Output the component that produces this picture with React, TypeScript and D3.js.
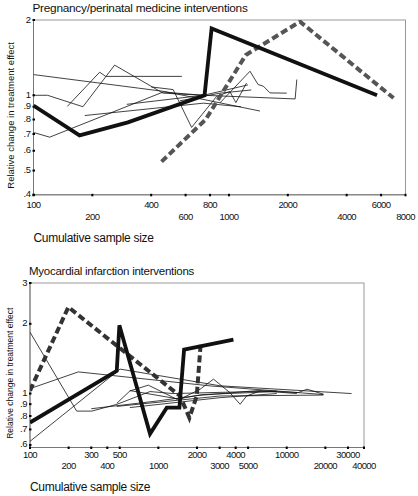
import React from "react";
import * as d3 from "d3";

type Pt = [number, number];

// ---------- Panel 1: Pregnancy/perinatal medicine ----------
const pregTitle = "Pregnancy/perinatal medicine interventions";
const pregXTicksRow1 = [100, 400, 800, 2000, 6000];
const pregXTicksRow2 = [200, 600, 1000, 4000, 8000];
const pregYTicks = [0.4, 0.5, 0.6, 0.7, 0.8, 0.9, 1, 2];
const pregThin: Pt[][] = [
  [[100, 1.21], [470, 1.035], [1440, 0.865]],
  [[100, 1.0], [118, 1.0], [179, 0.9], [260, 1.32], [460, 1.02], [740, 1.0]],
  [[149, 0.903], [218, 1.237], [234, 1.19], [574, 1.19]],
  [[100, 0.71], [121, 0.68], [460, 1.03], [740, 1.0], [1250, 1.1]],
  [[183, 0.83], [740, 0.93], [1150, 0.9]],
  [[400, 1.08], [518, 1.054], [644, 0.744], [865, 0.99], [1010, 1.035], [1085, 0.935], [1230, 1.12]],
  [[899, 0.932], [1281, 1.248], [1409, 1.104], [1500, 1.087], [1622, 1.022], [1976, 1.02]],
  [[300, 0.92], [740, 1.0], [2180, 0.967], [2224, 1.156]],
  [[560, 0.95], [900, 1.02], [1300, 1.05]],
];
const pregSolid: Pt[] = [[100, 0.91], [172, 0.691], [304, 0.779], [750, 1.0], [815, 1.85], [5720, 1.0]];
const pregDashed: Pt[] = [[452, 0.543], [760, 0.8], [1220, 1.45], [2310, 1.97], [6950, 0.975]];

// ---------- Panel 2: Myocardial infarction ----------
const miTitle = "Myocardial infarction interventions";
const miXTicksRow1 = [100, 300, 500, 2000, 4000, 10000, 30000];
const miXTicksRow2 = [200, 400, 1000, 3000, 5000, 20000, 40000];
const miYTicks = [0.6, 0.7, 0.8, 0.9, 1, 2, 3];
const miThin: Pt[][] = [
  [[100, 1.84], [231, 0.84], [303, 0.84], [474, 0.898], [861, 1.02], [1300, 1.0], [8370, 1.026]],
  [[100, 1.05], [238, 1.24], [2530, 1.079], [19300, 0.99]],
  [[100, 0.622], [503, 1.275], [3027, 1.08], [32000, 1.0]],
  [[600, 1.03], [1470, 0.945], [2113, 1.044], [2690, 1.154], [3600, 1.01], [4333, 0.899], [4870, 0.976], [6200, 1.026], [12300, 1.01], [14400, 1.044], [19400, 0.993]],
  [[474, 0.907], [600, 1.026], [835, 1.087], [1390, 0.945], [2200, 0.99], [8370, 1.02]],
  [[474, 0.88], [3027, 0.976], [19300, 0.985]],
  [[600, 0.87], [3027, 0.96], [8370, 1.0]],
  [[300, 0.86], [1000, 0.93], [2000, 0.98], [6000, 1.03], [12000, 1.0]],
];
const miSolid: Pt[] = [[100, 0.75], [474, 1.254], [497, 1.97], [861, 0.67], [1163, 0.869], [1459, 0.869], [1586, 1.547], [3845, 1.71]];
const miDashed: Pt[] = [[100, 1.03], [199, 2.36], [1476, 0.976], [1744, 0.786], [1991, 0.976], [2141, 1.666]];

const fmtY = (v: number) => (v < 1 ? String(v).replace(/^0/, "") : String(v));

interface PanelProps {
  title: string;
  xDomain: [number, number];
  xRange: [number, number];
  yDomain: [number, number];
  yRange: [number, number];
  row1: number[];
  row2: number[];
  yTicks: number[];
  thin: Pt[][];
  solid: Pt[];
  dashed: Pt[];
  dashedColor: string;
  titleY: number;
  row1Y: number;
  row2Y: number;
  xLabelY: number;
  yLabelX: number;
  yLabelSize: number;
  titleSize: number;
}

const FONT = "'Liberation Sans', Arial, sans-serif";

function Panel(p: PanelProps) {
  const x = d3.scaleLog().domain(p.xDomain).range(p.xRange);
  const y = d3.scaleLog().domain(p.yDomain).range(p.yRange);
  const line = d3
    .line<Pt>()
    .x((d) => x(d[0]))
    .y((d) => y(d[1]));
  const [x0, x1] = p.xRange;
  const [yb, yt] = p.yRange;
  const clipId = "clip" + Math.round(x0) + Math.round(yt);
  return (
    <g>
      <defs>
        <clipPath id={clipId}>
          <rect x={x0} y={yt} width={x1 - x0} height={yb - yt} />
        </clipPath>
      </defs>
      <text x={x0 - 1} y={p.titleY} fontSize={p.titleSize} fontFamily={FONT} fill="#111" letterSpacing={-0.25}>
        {p.title}
      </text>
      <rect x={x0} y={yt} width={x1 - x0} height={yb - yt} fill="none" stroke="#999" strokeWidth={1} />
      <line x1={x0} x2={x0} y1={yt} y2={yb} stroke="#777" strokeWidth={1} />
      <line x1={x0} x2={x1} y1={yb} y2={yb} stroke="#777" strokeWidth={1} />
      {p.yTicks.map((t) => (
        <g key={"y" + t}>
          <rect x={x0 - 1} y={y(t) - 1} width={2.5} height={2} fill="#000" />
          <text
            x={x0 - 3}
            y={y(t) + 2.5}
            fontSize={9.5}
            fontFamily={FONT}
            textAnchor="end"
            letterSpacing={-0.5}
            fill="#111"
          >
            {fmtY(t)}
          </text>
        </g>
      ))}
      {[...p.row1, ...p.row2].map((t) => (
        <rect key={"xt" + t} x={x(t) - 1} y={yb - 1} width={2} height={2.5} fill="#000" />
      ))}
      {p.row1.map((t) => (
        <text key={"r1" + t} x={x(t)} y={p.row1Y} fontSize={9.5} fontFamily={FONT} textAnchor="middle" letterSpacing={-0.6} fill="#111">
          {t}
        </text>
      ))}
      {p.row2.map((t) => (
        <text key={"r2" + t} x={x(t)} y={p.row2Y} fontSize={9.5} fontFamily={FONT} textAnchor="middle" letterSpacing={-0.6} fill="#111">
          {t}
        </text>
      ))}
      <text x={x0} y={p.xLabelY} fontSize={12} fontFamily={FONT} fill="#111" letterSpacing={-0.3}>
        Cumulative sample size
      </text>
      <text
        transform={`translate(${p.yLabelX},${(yt + yb) / 2 + 8}) rotate(-90)`}
        fontSize={p.yLabelSize}
        fontFamily={FONT}
        textAnchor="middle"
        fill="#111"
      >
        Relative change in treatment effect
      </text>
      <g clipPath={`url(#${clipId})`}>
        {p.thin.map((s, i) => (
          <path key={"t" + i} d={line(s) || ""} fill="none" stroke="#111" strokeWidth={0.8} />
        ))}
        <path d={line(p.dashed) || ""} fill="none" stroke={p.dashedColor} strokeWidth={4} strokeDasharray="7,3.5" />
        <path d={line(p.solid) || ""} fill="none" stroke="#111" strokeWidth={3.8} strokeLinejoin="miter" />
      </g>
    </g>
  );
}

export default function App() {
  return (
    <svg
      width={418}
      height={496}
      style={{ position: "absolute", left: 0, top: 0, background: "#fff" }}
    >
      <rect x={0} y={0} width={418} height={496} fill="#fff" />
      <Panel
        title={pregTitle}
        xDomain={[100, 8000]}
        xRange={[33.5, 405.5]}
        yDomain={[0.4, 2]}
        yRange={[194.8, 20]}
        row1={pregXTicksRow1}
        row2={pregXTicksRow2}
        yTicks={pregYTicks}
        thin={pregThin}
        solid={pregSolid}
        dashed={pregDashed}
        dashedColor="#555"
        titleY={12}
        row1Y={208}
        row2Y={219.5}
        xLabelY={242}
        yLabelX={14}
        yLabelSize={9.5}
        titleSize={11.8}
      />
      <Panel
        title={miTitle}
        xDomain={[100, 40000]}
        xRange={[30, 364]}
        yDomain={[0.585, 3]}
        yRange={[447.5, 283]}
        row1={miXTicksRow1}
        row2={miXTicksRow2}
        yTicks={miYTicks}
        thin={miThin}
        solid={miSolid}
        dashed={miDashed}
        dashedColor="#333"
        titleY={274.5}
        row1Y={458}
        row2Y={469}
        xLabelY={491}
        yLabelX={13}
        yLabelSize={8.5}
        titleSize={11.5}
      />
    </svg>
  );
}
